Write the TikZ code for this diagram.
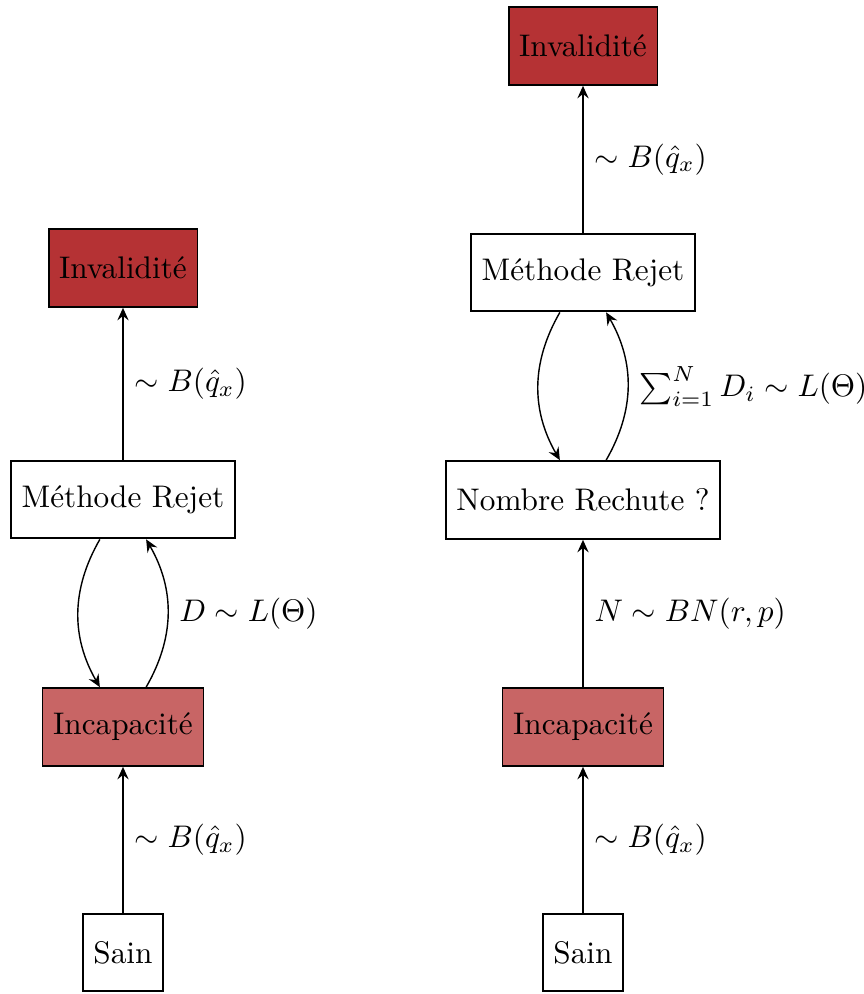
\documentclass[tikz,border=0pt]{standalone}
\usetikzlibrary{arrows.meta}
\definecolor{invcol}{RGB}{181,50,52}
\definecolor{inccol}{RGB}{200,101,101}
\tikzset{
  state/.style={draw, line width=0.6pt, minimum height=24.9pt, inner xsep=3.4pt},
  inval/.style={state, fill=invcol},
  incap/.style={state, fill=inccol},
  flow/.style={-{Stealth[length=4pt,width=3.6pt,inset=1.4pt]}, line width=0.45pt},
  lab/.style={right, inner sep=3.5pt}
}
\begin{document}
\begin{tikzpicture}[x=0.32pt, y=-0.32pt]
  \useasboundingbox (0,0) rectangle (864,994);
  % left chain: single relapse duration
  \node[inval] (invL) at (123,268) {Invalidité};
  \node[state] (rejL) at (123,499.5) {Méthode Rejet};
  \node[incap] (incL) at (123,727) {Incapacité};
  \node[state] (sainL) at (123,952.5) {Sain};
  \draw[flow] (sainL) -- node[lab] {$\sim B(\hat{q}_x)$} (incL);
  \draw[flow] ([xshift=-7.4pt]rejL.south) to[bend right=30] ([xshift=-7.4pt]incL.north);
  \draw[flow] ([xshift=7.4pt]incL.north) to[bend right=30] node[lab] {$D \sim L(\Theta)$} ([xshift=7.4pt]rejL.south);
  \draw[flow] (rejL) -- node[lab] {$\sim B(\hat{q}_x)$} (invL);
  % right chain: number of relapses
  \node[inval] (invR) at (583,46) {Invalidité};
  \node[state] (rejR) at (583,272.5) {Méthode Rejet};
  \node[state] (nbR) at (583,500) {Nombre Rechute ?};
  \node[incap] (incR) at (583,727) {Incapacité};
  \node[state] (sainR) at (583,952.5) {Sain};
  \draw[flow] (sainR) -- node[lab] {$\sim B(\hat{q}_x)$} (incR);
  \draw[flow] (incR) -- node[lab] {$N \sim BN(r,p)$} (nbR);
  \draw[flow] ([xshift=-7.4pt]rejR.south) to[bend right=30] ([xshift=-7.4pt]nbR.north);
  \draw[flow] ([xshift=7.4pt]nbR.north) to[bend right=30] node[lab] {$\sum_{i=1}^N D_i \sim L(\Theta)$} ([xshift=7.4pt]rejR.south);
  \draw[flow] (rejR) -- node[lab] {$\sim B(\hat{q}_x)$} (invR);
\end{tikzpicture}
\end{document}
